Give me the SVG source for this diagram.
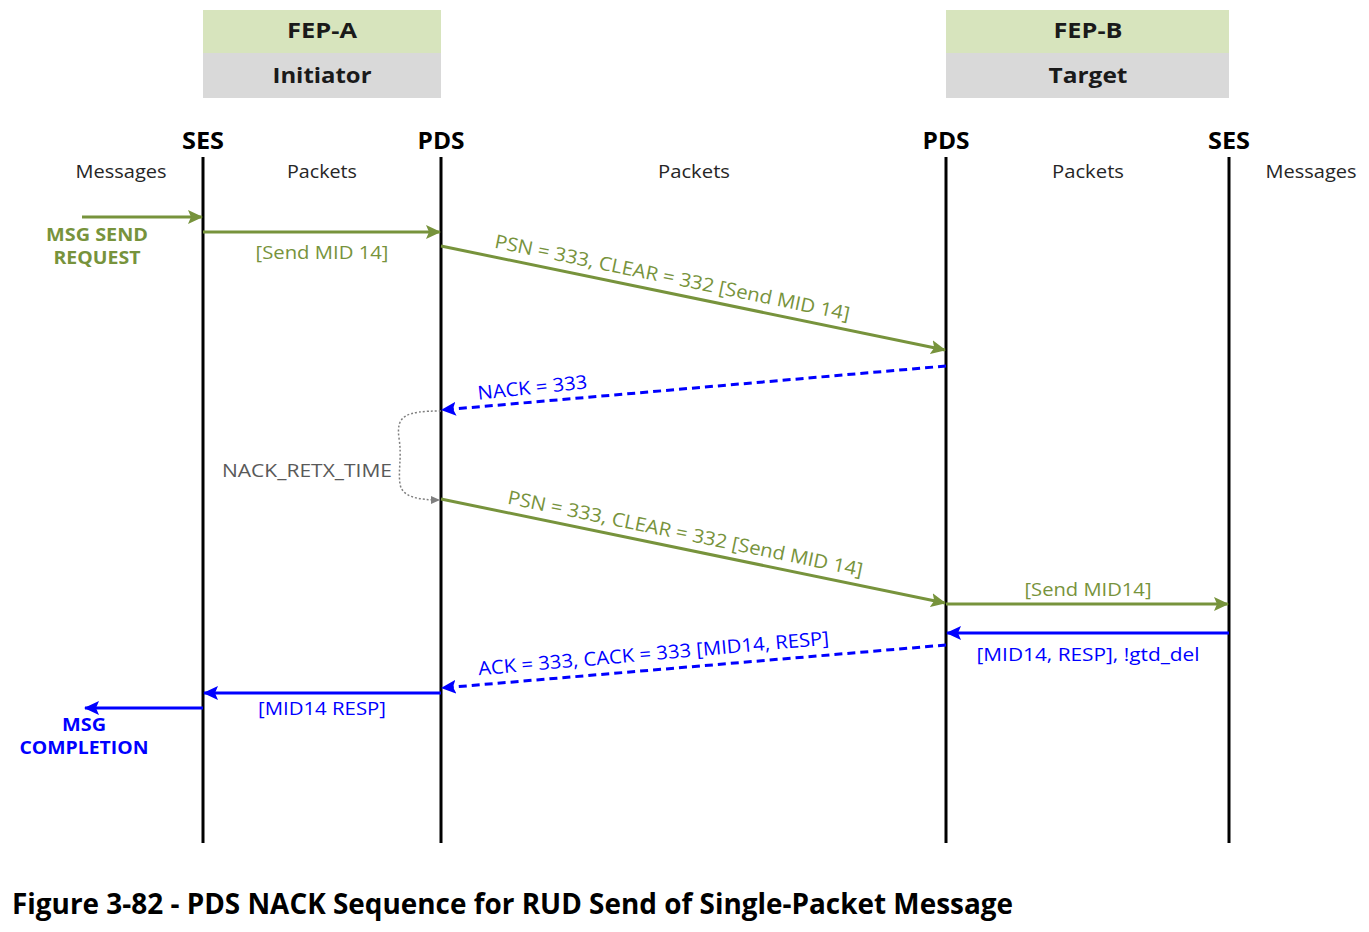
<svg xmlns="http://www.w3.org/2000/svg" width="1369" height="932" viewBox="0 0 1369 932">
<style>
text{font-family:"Open Sans","Noto Sans","DejaVu Sans",sans-serif}
.hb{font-weight:bold;font-size:22px;fill:#1a1a1a;text-anchor:middle}
.ll{font-weight:bold;font-size:24px;fill:#000;text-anchor:middle}
.lab{font-size:19px;fill:#262626;text-anchor:middle}
.gt{font-size:19px;fill:#77933c;text-anchor:middle}
.bt{font-size:19px;fill:#0000ff;text-anchor:middle}
.gb{font-size:17px;font-weight:bold;fill:#77933c;text-anchor:middle}
.bb{font-size:17px;font-weight:bold;fill:#0000ff;text-anchor:middle}
.life{stroke:#000;stroke-width:3}
.ga{stroke:#77933c;stroke-width:3;fill:none}
.ba{stroke:#0000ff;stroke-width:3;fill:none}
.bd{stroke:#0000ff;stroke-width:3;fill:none;stroke-dasharray:8 5}
.cap{font-weight:bold;font-size:28px;fill:#000}
</style>
<defs>
<marker id="ag" markerUnits="userSpaceOnUse" markerWidth="16" markerHeight="14" refX="14" refY="7" orient="auto"><path d="M0,0 L15,7 L0,14 L3,7 z" fill="#77933c"/></marker>
<marker id="ab" markerUnits="userSpaceOnUse" markerWidth="16" markerHeight="14" refX="14" refY="7" orient="auto"><path d="M0,0 L15,7 L0,14 L3,7 z" fill="#0000ff"/></marker>
<marker id="ay" markerUnits="userSpaceOnUse" markerWidth="10" markerHeight="8" refX="9" refY="4" orient="auto"><path d="M0,0 L9,4 L0,8 z" fill="#7f7f7f"/></marker>
</defs>
<rect width="1369" height="932" fill="#fff"/>

<g id="fep-a">
<rect x="203" y="10" width="238" height="43" fill="#d7e4bd"/>
<rect x="203" y="53" width="238" height="45" fill="#d9d9d9"/>
<text class="hb" x="322" y="38" textLength="70" lengthAdjust="spacingAndGlyphs">FEP-A</text>
<text class="hb" x="322" y="83" textLength="99" lengthAdjust="spacingAndGlyphs">Initiator</text>
</g>
<g id="fep-b">
<rect x="946" y="10" width="283" height="43" fill="#d7e4bd"/>
<rect x="946" y="53" width="283" height="45" fill="#d9d9d9"/>
<text class="hb" x="1088" y="38" textLength="69" lengthAdjust="spacingAndGlyphs">FEP-B</text>
<text class="hb" x="1088" y="83" textLength="79" lengthAdjust="spacingAndGlyphs">Target</text>
</g>

<g id="ses-a">
<text class="ll" x="203" y="149" textLength="42" lengthAdjust="spacingAndGlyphs">SES</text>
<line class="life" x1="203" y1="157" x2="203" y2="843"/>
</g>
<g id="pds-a">
<text class="ll" x="441" y="149" textLength="47" lengthAdjust="spacingAndGlyphs">PDS</text>
<line class="life" x1="441" y1="157" x2="441" y2="843"/>
</g>
<g id="pds-b">
<text class="ll" x="946" y="149" textLength="47" lengthAdjust="spacingAndGlyphs">PDS</text>
<line class="life" x1="946" y1="157" x2="946" y2="843"/>
</g>
<g id="ses-b">
<text class="ll" x="1229" y="149" textLength="42" lengthAdjust="spacingAndGlyphs">SES</text>
<line class="life" x1="1229" y1="157" x2="1229" y2="843"/>
</g>

<g id="zone-labels">
<text class="lab" x="121" y="178" textLength="91" lengthAdjust="spacingAndGlyphs">Messages</text>
<text class="lab" x="322" y="178" textLength="70" lengthAdjust="spacingAndGlyphs">Packets</text>
<text class="lab" x="694" y="178" textLength="72" lengthAdjust="spacingAndGlyphs">Packets</text>
<text class="lab" x="1088" y="178" textLength="72" lengthAdjust="spacingAndGlyphs">Packets</text>
<text class="lab" x="1311" y="178" textLength="91" lengthAdjust="spacingAndGlyphs">Messages</text>
</g>

<g id="connectors">
<line class="ga" x1="82" y1="217" x2="202" y2="217" marker-end="url(#ag)"/>
<line class="ga" x1="203" y1="232" x2="440" y2="232" marker-end="url(#ag)"/>
<line class="ga" x1="441" y1="246" x2="945" y2="350" marker-end="url(#ag)"/>
<line class="bd" x1="946" y1="366" x2="442" y2="410" marker-end="url(#ab)"/>
<path d="M441,411 C405,411 396,416 399,438 C402,458 398,470 400,484 C402,497 418,500 440,500" fill="none" stroke="#7f7f7f" stroke-width="1.5" stroke-dasharray="2 2" marker-end="url(#ay)"/>
<line class="ga" x1="441" y1="499" x2="945" y2="603" marker-end="url(#ag)"/>
<line class="ga" x1="946" y1="604" x2="1228" y2="604" marker-end="url(#ag)"/>
<line class="ba" x1="1229" y1="633" x2="947" y2="633" marker-end="url(#ab)"/>
<line class="bd" x1="946" y1="645" x2="442" y2="688" marker-end="url(#ab)"/>
<line class="ba" x1="441" y1="693" x2="204" y2="693" marker-end="url(#ab)"/>
<line class="ba" x1="203" y1="708" x2="85" y2="708" marker-end="url(#ab)"/>
</g>

<g id="connector-labels">
<text class="gb" x="97" y="241" textLength="102" lengthAdjust="spacingAndGlyphs">MSG SEND</text>
<text class="gb" x="97" y="264" textLength="87" lengthAdjust="spacingAndGlyphs">REQUEST</text>
<text class="gt" x="322" y="259" textLength="133" lengthAdjust="spacingAndGlyphs">[Send MID 14]</text>
<text class="gt" x="671" y="284" transform="rotate(11.64 671 284)" textLength="362" lengthAdjust="spacingAndGlyphs">PSN = 333, CLEAR = 332 [Send MID 14]</text>
<text class="bt" x="533" y="394" transform="rotate(-6 533 394)" textLength="110" lengthAdjust="spacingAndGlyphs">NACK = 333</text>
<text x="307" y="477" font-size="19" fill="#595959" text-anchor="middle" textLength="170" lengthAdjust="spacingAndGlyphs">NACK_RETX_TIME</text>
<text class="gt" x="684" y="540" transform="rotate(11.64 684 540)" textLength="362" lengthAdjust="spacingAndGlyphs">PSN = 333, CLEAR = 332 [Send MID 14]</text>
<text class="gt" x="1088" y="596" textLength="127" lengthAdjust="spacingAndGlyphs">[Send MID14]</text>
<text class="bt" x="1088" y="661" textLength="223" lengthAdjust="spacingAndGlyphs">[MID14, RESP], !gtd_del</text>
<text class="bt" x="654" y="660" transform="rotate(-5 654 660)" textLength="352" lengthAdjust="spacingAndGlyphs">ACK = 333, CACK = 333 [MID14, RESP]</text>
<text class="bt" x="322" y="715" textLength="128" lengthAdjust="spacingAndGlyphs">[MID14 RESP]</text>
<text class="bb" x="84" y="731" textLength="44" lengthAdjust="spacingAndGlyphs">MSG</text>
<text class="bb" x="84" y="754" textLength="129" lengthAdjust="spacingAndGlyphs">COMPLETION</text>
</g>

<text class="cap" x="12" y="914" textLength="1001" lengthAdjust="spacingAndGlyphs">Figure 3-82 - PDS NACK Sequence for RUD Send of Single-Packet Message</text>
</svg>
